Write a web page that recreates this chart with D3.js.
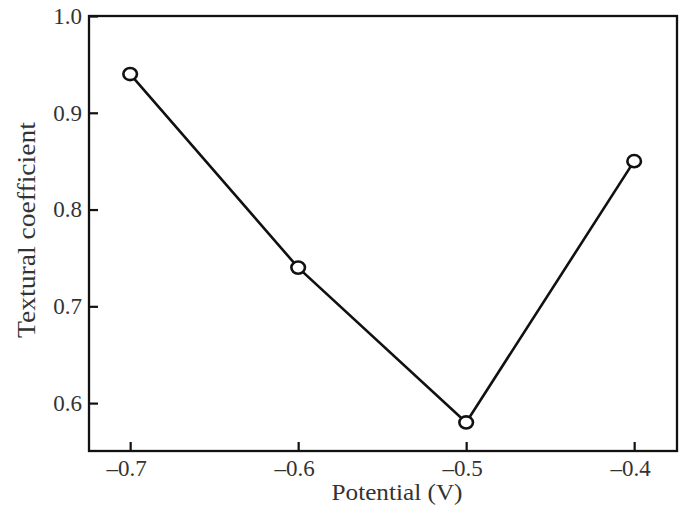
<!DOCTYPE html>
<html><head><meta charset="utf-8">
<script src="https://cdn.jsdelivr.net/npm/d3@7"></script>
<style>body{margin:0;background:#fff}svg{display:block}</style>
</head><body>
<script>
const potentials = [-0.7, -0.6, -0.5, -0.4];
const coefficients = [0.94, 0.74, 0.58, 0.85];
const xTicks = [-0.7, -0.6, -0.5, -0.4];
const yTicks = [0.6, 0.7, 0.8, 0.9, 1.0];

const FONT = "Liberation Serif, Times New Roman, serif";
const W = 700, H = 521;
const m = {left: 89, right: 23, top: 16, bottom: 70};
const svg = d3.select("body").append("svg").attr("width", W).attr("height", H);
const x = d3.scaleLinear().domain([-0.7245, -0.3745]).range([m.left, W - m.right]);
const y = d3.scaleLinear().domain([0.5505, 1.0]).range([H - m.bottom, m.top]);
const fmt = v => (v < 0 ? "\u2013" : "") + d3.format(".1f")(Math.abs(v));

const gx = svg.append("g").attr("transform", `translate(0,${H - m.bottom})`)
  .call(d3.axisBottom(x).tickValues(xTicks).tickSize(-9).tickPadding(9).tickFormat(fmt));
const gy = svg.append("g").attr("transform", `translate(${m.left},0)`)
  .call(d3.axisLeft(y).tickValues(yTicks).tickSize(-9).tickPadding(7).tickFormat(d3.format(".1f")));
[gx, gy].forEach(g => {
  g.attr("font-size", 23).attr("font-family", FONT);
  g.select(".domain").remove();
  g.selectAll(".tick line").attr("stroke", "#111").attr("stroke-width", 2.2);
  g.selectAll(".tick text").attr("font-size", 23).attr("font-family", FONT).attr("fill", "#333");
});
gx.selectAll(".tick text").attr("dx", -4);

svg.append("rect").attr("x", m.left).attr("y", m.top)
  .attr("width", W - m.right - m.left).attr("height", H - m.bottom - m.top)
  .attr("fill", "none").attr("stroke", "#111").attr("stroke-width", 2.3);

const pts = potentials.map((p, i) => [p, coefficients[i]]);
svg.append("path").datum(pts)
  .attr("d", d3.line().x(d => x(d[0])).y(d => y(d[1])))
  .attr("fill", "none").attr("stroke", "#111").attr("stroke-width", 2.6);
svg.selectAll("ellipse.pt").data(pts).enter().append("ellipse")
  .attr("cx", d => x(d[0])).attr("cy", d => y(d[1])).attr("rx", 6.8).attr("ry", 6.1)
  .attr("fill", "#fff").attr("stroke", "#111").attr("stroke-width", 2.6);

svg.append("text").attr("x", 397).attr("y", 500)
  .attr("text-anchor", "middle").attr("font-size", 23).attr("font-family", FONT).attr("fill", "#333")
  .attr("textLength", 131).attr("lengthAdjust", "spacingAndGlyphs").text("Potential (V)");
svg.append("text").attr("transform", `translate(35,230) rotate(-90)`)
  .attr("text-anchor", "middle").attr("font-size", 25).attr("font-family", FONT).attr("fill", "#333")
  .attr("textLength", 216).attr("lengthAdjust", "spacingAndGlyphs").text("Textural coefficient");
</script>
</body></html>
